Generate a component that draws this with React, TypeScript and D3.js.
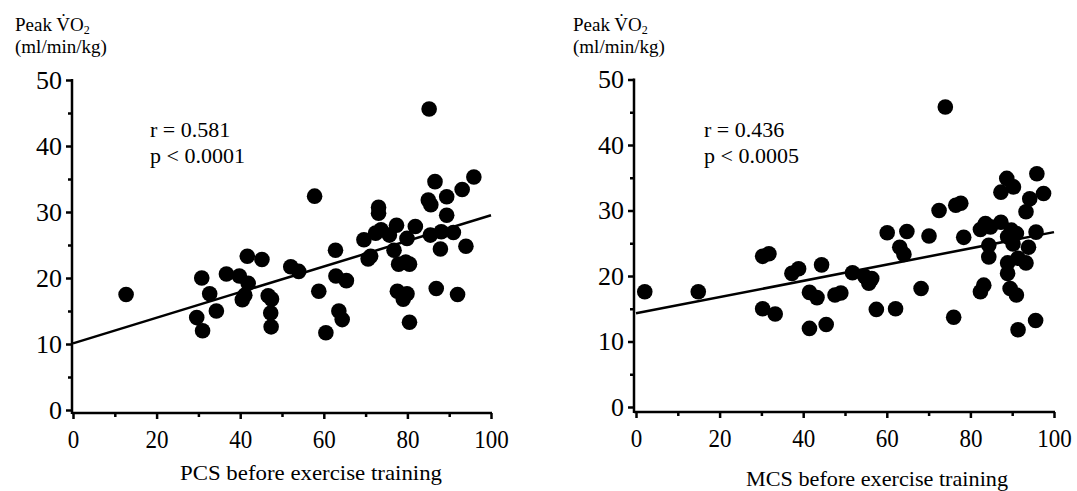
import React, { useEffect, useRef } from "react";
import * as d3 from "d3";

// PCS panel (left)
const pcsScore = [12.7, 29.6, 30.8, 31.0, 32.7, 34.3, 36.7, 39.8, 40.5, 41.1, 41.7, 41.9, 45.2, 46.7, 47.5, 47.3, 47.4, 52.1, 54.0, 57.8, 58.8, 60.5, 62.8, 62.9, 63.6, 64.4, 65.4, 69.6, 70.6, 71.2, 72.4, 73.1, 73.1, 73.7, 75.7, 76.8, 77.4, 77.6, 77.9, 79.0, 79.6, 79.9, 79.9, 80.5, 80.5, 81.9, 85.0, 85.2, 85.6, 85.5, 86.6, 86.9, 87.9, 88.1, 89.4, 89.4, 91.0, 92.0, 93.1, 94.0, 95.9];
const pcsVo2 = [17.5, 14.0, 20.0, 12.0, 17.6, 15.0, 20.6, 20.3, 16.7, 17.4, 23.3, 19.2, 22.8, 17.3, 16.8, 14.7, 12.6, 21.7, 21.0, 32.4, 18.0, 11.7, 24.2, 20.3, 15.0, 13.7, 19.6, 25.8, 22.9, 23.3, 26.8, 30.7, 29.8, 27.3, 26.5, 24.2, 28.0, 18.0, 22.1, 16.8, 22.4, 17.6, 26.0, 22.1, 13.3, 27.8, 31.8, 45.6, 31.1, 26.5, 34.6, 18.4, 24.4, 27.0, 32.3, 29.5, 26.9, 17.5, 33.4, 24.8, 35.3];
const pcsFit = [10.1, 29.5]; // fitted VO2 at score 0 and 100
const pcsStats = ["r = 0.581", "p < 0.0001"];

// MCS panel (right)
const mcsScore = [2.1, 14.9, 30.3, 31.8, 30.3, 33.3, 37.3, 38.9, 41.5, 43.3, 41.5, 44.4, 45.5, 47.6, 49.0, 51.8, 54.8, 55.7, 56.4, 57.5, 60.1, 62.1, 63.1, 64.1, 64.8, 68.2, 70.1, 72.5, 74.0, 76.0, 76.5, 77.7, 78.4, 82.4, 82.4, 83.2, 83.6, 84.4, 84.4, 84.8, 87.3, 87.3, 88.7, 88.9, 88.9, 88.9, 89.5, 89.8, 90.2, 90.3, 91.0, 91.0, 91.4, 91.4, 93.3, 93.3, 93.9, 94.2, 95.6, 95.7, 95.9, 97.5];
const mcsVo2 = [17.6, 17.6, 23.0, 23.4, 15.0, 14.2, 20.4, 21.1, 17.5, 16.7, 12.0, 21.7, 12.6, 17.1, 17.4, 20.5, 19.9, 18.9, 19.6, 14.9, 26.6, 15.0, 24.4, 23.3, 26.8, 18.1, 26.1, 30.0, 45.8, 13.7, 30.8, 31.1, 25.9, 27.1, 17.6, 18.6, 28.0, 24.7, 22.9, 27.5, 28.2, 32.8, 34.9, 26.0, 22.0, 20.4, 18.1, 27.0, 24.9, 33.6, 17.1, 26.5, 22.7, 11.8, 22.0, 29.8, 24.4, 31.8, 13.2, 26.7, 35.6, 32.6];
const mcsFit = [14.3, 26.7];
const mcsStats = ["r = 0.436", "p < 0.0005"];

const xTicks = [0, 20, 40, 60, 80, 100];
const xMinor = [10, 30, 50, 70, 90];
const yTicks = [0, 10, 20, 30, 40, 50];
const yMinor = [5, 15, 25, 35, 45];

const FONT = "'Liberation Serif', 'Times New Roman', serif";

const panels = [
  {
    score: pcsScore, vo2: pcsVo2, fit: pcsFit, stats: pcsStats,
    xTitle: "PCS before exercise training",
    axisX: 72, x0: 73, x1: 491, y0: 410, y1: 80, xAxisY: 413,
    titleX: 15, statsX: 150, xTitleX: 311, xTitleY: 480,
  },
  {
    score: mcsScore, vo2: mcsVo2, fit: mcsFit, stats: mcsStats,
    xTitle: "MCS before exercise training",
    axisX: 634, x0: 636, x1: 1054, y0: 407, y1: 79.5, xAxisY: 412,
    titleX: 573, statsX: 704, xTitleX: 877, xTitleY: 486,
  },
];

function styleAxis(sel) {
  sel.attr("font-family", FONT).attr("font-size", 26);
  sel.select(".domain").remove();
  sel.selectAll(".tick line").attr("stroke", "#000").attr("stroke-width", 2.5);
  sel.selectAll(".tick text").attr("fill", "#000");
}

function drawPanel(svg, p) {
  const x = d3.scaleLinear().domain([0, 100]).range([p.x0, p.x1]);
  const y = d3.scaleLinear().domain([0, 50]).range([p.y0, p.y1]);
  const g = svg.append("g");

  // y axis
  g.append("line")
    .attr("x1", p.axisX).attr("x2", p.axisX)
    .attr("y1", y(50) - 1).attr("y2", p.xAxisY + 1)
    .attr("stroke", "#000").attr("stroke-width", 2.5);
  g.append("g")
    .attr("transform", `translate(${p.axisX},0)`)
    .call(d3.axisLeft(y).tickValues(yTicks).tickSize(6).tickPadding(4))
    .call(styleAxis);
  g.append("g")
    .attr("transform", `translate(${p.axisX},0)`)
    .call(d3.axisLeft(y).tickValues(yMinor).tickSize(4).tickFormat(() => ""))
    .call(styleAxis);

  // x axis
  g.append("line")
    .attr("x1", p.axisX).attr("x2", x(100) + 1)
    .attr("y1", p.xAxisY).attr("y2", p.xAxisY)
    .attr("stroke", "#000").attr("stroke-width", 2.5);
  g.append("g")
    .attr("transform", `translate(0,${p.xAxisY})`)
    .call(d3.axisBottom(x).tickValues(xTicks).tickSize(6).tickPadding(11))
    .call(styleAxis)
    .call(s => s.selectAll(".tick text")
      .attr("textLength", d => String(d).length * 11.5)
      .attr("lengthAdjust", "spacingAndGlyphs"));
  g.append("g")
    .attr("transform", `translate(0,${p.xAxisY})`)
    .call(d3.axisBottom(x).tickValues(xMinor).tickSize(4).tickFormat(() => ""))
    .call(styleAxis);

  // regression line
  g.append("line")
    .attr("x1", x(0)).attr("y1", y(p.fit[0]))
    .attr("x2", x(100)).attr("y2", y(p.fit[1]))
    .attr("stroke", "#000").attr("stroke-width", 2.5);

  // points
  g.append("g")
    .selectAll("circle")
    .data(d3.zip(p.score, p.vo2))
    .join("circle")
    .attr("cx", d => x(d[0]))
    .attr("cy", d => y(d[1]))
    .attr("r", 7.8)
    .attr("fill", "#000");

  // texts
  const txt = g.append("g").attr("font-family", FONT).attr("fill", "#000");
  const t1 = txt.append("text").attr("x", p.titleX).attr("y", 31).attr("font-size", 19);
  t1.append("tspan").text("Peak V\u0307O");
  t1.append("tspan").attr("font-size", 12).attr("dy", 3).text("2");
  txt.append("text").attr("x", p.titleX).attr("y", 53).attr("font-size", 19).text("(ml/min/kg)");

  txt.selectAll(".stat")
    .data(p.stats)
    .join("text")
    .attr("class", "stat")
    .attr("x", p.statsX)
    .attr("y", (d, i) => 137 + i * 26)
    .attr("font-size", 22)
    .text(d => d);

  txt.append("text")
    .attr("x", p.xTitleX)
    .attr("y", p.xTitleY)
    .attr("text-anchor", "middle")
    .attr("font-size", 22)
    .attr("textLength", 262)
    .attr("lengthAdjust", "spacingAndGlyphs")
    .text(p.xTitle);
}

export default function App() {
  const svgRef = useRef(null);

  useEffect(() => {
    const svg = d3.select(svgRef.current);
    svg.selectAll("*").remove();
    panels.forEach(p => drawPanel(svg, p));
  }, []);

  return (
    <svg
      ref={svgRef}
      width={1077}
      height={491}
      style={{ position: "absolute", left: 0, top: 0, background: "#fff" }}
    />
  );
}
